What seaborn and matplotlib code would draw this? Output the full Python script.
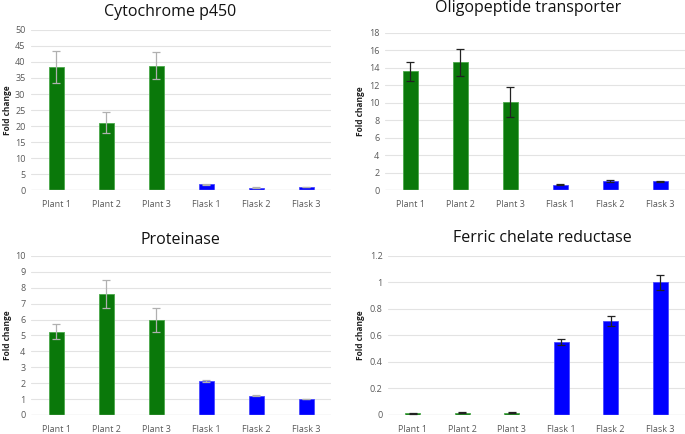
import matplotlib
matplotlib.use('Agg')

import numpy as np
import pandas as pd
import matplotlib.pyplot as plt
import seaborn as sns

sns.set_theme(style='white')
plt.rcParams['font.family'] = ['Open Sans', 'DejaVu Sans']

# ========== 数据 ==========
samples = ['Plant 1', 'Plant 2', 'Plant 3', 'Flask 1', 'Flask 2', 'Flask 3']
groups = ['Plant', 'Plant', 'Plant', 'Flask', 'Flask', 'Flask']

cyto_vals = [38.3, 21.0, 38.8, 1.8, 0.7, 1.0]
cyto_err = [5.0, 3.3, 4.2, 0.2, 0.2, 0.1]

oligo_vals = [13.6, 14.6, 10.1, 0.6, 1.0, 1.0]
oligo_err = [1.1, 1.5, 1.7, 0.05, 0.1, 0.05]

prot_vals = [5.25, 7.6, 6.0, 2.12, 1.2, 1.0]
prot_err = [0.5, 0.9, 0.75, 0.05, 0.03, 0.02]

ferric_vals = [0.012, 0.018, 0.018, 0.55, 0.71, 1.0]
ferric_err = [0.003, 0.003, 0.003, 0.02, 0.04, 0.055]

palette = {'Plant': '#0a780a', 'Flask': '#0000ff'}
edges = {'Plant': '#4aa84a', 'Flask': '#4a4aff'}

panels = [
    # title, vals, err, ymax, step, errcolor, axes rect, title pos, ylabel x
    ('Cytochrome p450', cyto_vals, cyto_err, 50, 5, '#b0b0b0',
     [31/685, 0.562, 300/685, 0.369], (170/685, 1 - 12/434), 3/685),
    ('Oligopeptide transporter', oligo_vals, oligo_err, 18, 2, '#222222',
     [385/685, 0.562, 300/685, 0.3625], (528/685, 1 - 8/434), 356/685),
    ('Proteinase', prot_vals, prot_err, 10, 1, '#b0b0b0',
     [31/685, 0.0438, 300/685, 0.3664], (180/685, 1 - 240/434), 3/685),
    ('Ferric chelate reductase', ferric_vals, ferric_err, 1.2, 0.2, '#222222',
     [388/685, 0.0438, 297/685, 0.3664], (542/685, 1 - 238/434), 356/685),
]

fig = plt.figure(figsize=(6.85, 4.34), dpi=100)

for title, vals, err, ymax, step, ecol, rect, tpos, ylx in panels:
    ax = fig.add_axes(rect)
    df = pd.DataFrame({'sample': samples, 'group': groups, 'value': vals})
    sns.barplot(data=df, x='sample', y='value', hue='group', palette=palette,
                dodge=False, width=0.3, saturation=1, legend=False, ax=ax)
    for bar, g in zip(ax.patches, groups):
        bar.set_edgecolor(edges[g])
        bar.set_linewidth(0.6)
    ax.errorbar(range(len(samples)), vals, yerr=err, fmt='none',
                ecolor=ecol, elinewidth=0.9, capsize=3, capthick=0.9, zorder=5)
    ax.set_xlim(-0.5, 5.5)
    ax.set_ylim(0, ymax)
    ticks = np.arange(0, ymax + step / 2, step)
    ax.set_yticks(ticks)
    ax.set_yticklabels(['{:g}'.format(round(t, 2)) for t in ticks])
    ax.yaxis.grid(True, color='#e3e3e3', linewidth=0.8)
    ax.set_axisbelow(True)
    for s in ax.spines.values():
        s.set_visible(False)
    ax.axhline(0, color='#d9d9d9', linewidth=0.9, zorder=1)
    ax.tick_params(axis='both', length=0, labelsize=6.5, colors='#595959')
    ax.tick_params(axis='x', pad=7)
    ax.tick_params(axis='y', pad=4)
    ax.set_xlabel('')
    ax.set_ylabel('')
    fig.text(ylx, rect[1] + rect[3] / 2, 'Fold change', rotation=90,
             fontsize=6, fontweight='bold', ha='left', va='center', color='#222222')
    fig.text(tpos[0], tpos[1], title, fontsize=11.5, ha='center', va='center',
             color='#111111')

fig.savefig('out.png', dpi=100)
plt.close()
